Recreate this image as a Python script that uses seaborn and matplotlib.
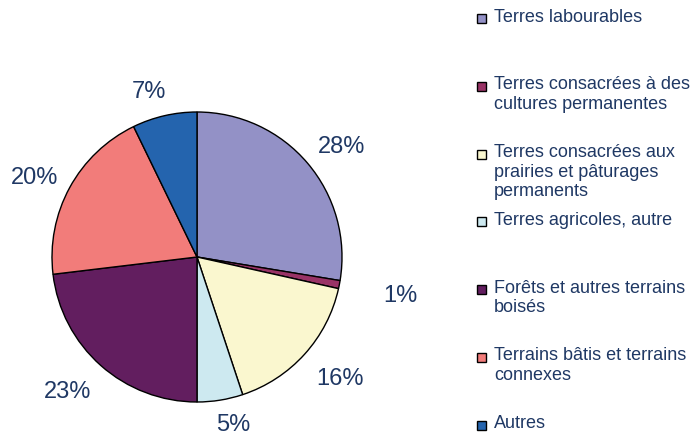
import matplotlib
matplotlib.use("Agg")
import numpy as np
import matplotlib.pyplot as plt
from matplotlib.patches import Rectangle
import seaborn as sns

categories = [
    "Terres labourables",
    "Terres consacrées à des\ncultures permanentes",
    "Terres consacrées aux\nprairies et pâturages\npermanents",
    "Terres agricoles, autre",
    "Forêts et autres terrains\nboisés",
    "Terrains bâtis et terrains\nconnexes",
    "Autres",
]
values = [27.6, 0.9, 16.4, 5.1, 23.1, 19.7, 7.2]
colors = ["#9391C6", "#993366", "#FAF7CF", "#CDE9F0", "#621E5F", "#F27C7A", "#2464AE"]
# placement of each percentage label: radial distance (pie radii) and angle tweak (deg)
label_dist = [1.255, 1.43, 1.296, 1.185, 1.288, 1.249, 1.185]
label_dang = [-3.1, 0.0, 1.6, 2.9, -2.1, 2.7, 3.2]

sns.set_theme(style="white")
plt.rcParams["font.family"] = ["Liberation Sans", "DejaVu Sans"]

W, H = 700, 437
fig = plt.figure(figsize=(7, 4.37), dpi=100)
cx, cy, r = 197, 257, 145
ax = fig.add_axes([(cx - r) / W, (H - cy - r) / H, 2 * r / W, 2 * r / H])

text_color = "#1F3864"
wedges, texts, autotexts = ax.pie(
    values, colors=colors, startangle=90, counterclock=False,
    autopct=lambda p: f"{p:.0f}%", pctdistance=1.25, radius=1,
    wedgeprops=dict(edgecolor="black", linewidth=1.0),
    textprops=dict(color=text_color, fontsize=17),
)
for w, t, d, da in zip(wedges, autotexts, label_dist, label_dang):
    ang = np.deg2rad((w.theta1 + w.theta2) / 2 + da)
    t.set_position((d * np.cos(ang), d * np.sin(ang)))
    t.set_clip_on(False)
ax.set_xlim(-1, 1)
ax.set_ylim(-1, 1)
ax.set_aspect("equal")
ax.axis("off")

# legend (Excel-style equal slots)
y0, step = 18, 67.8
for i, (lab, col) in enumerate(zip(categories, colors)):
    yc = y0 + i * step
    fig.patches.append(Rectangle((477 / W, (H - yc - 5) / H), 9 / W, 9 / H,
                                 transform=fig.transFigure, facecolor=col,
                                 edgecolor="black", linewidth=1.0))
    fig.text(494 / W, (H - yc + 9.5) / H, lab, fontsize=13, color=text_color,
             va="top", ha="left", linespacing=1.2, transform=fig.transFigure)

fig.savefig("out.png", dpi=100)
